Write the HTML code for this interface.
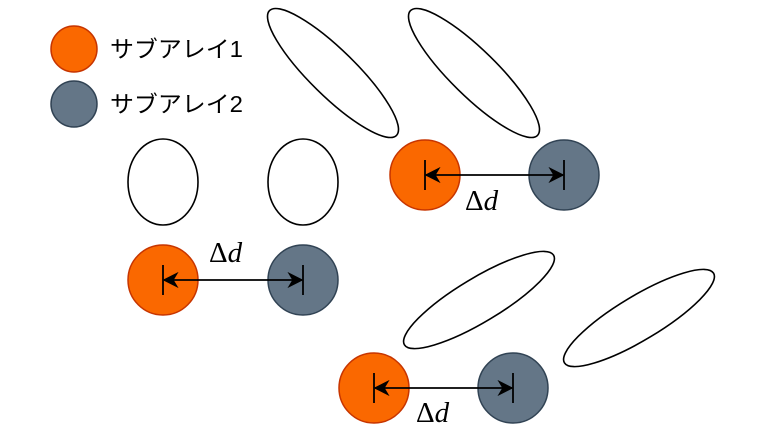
<!DOCTYPE html>
<html><head><meta charset="utf-8"><style>body{margin:0;background:#fff}svg{display:block}</style></head><body>
<svg width="768" height="433" viewBox="0 0 768 433" xmlns="http://www.w3.org/2000/svg">
<defs><marker id="a" viewBox="0 0 10 10" refX="9" refY="5" markerWidth="9" markerHeight="9" orient="auto-start-reverse"><path d="M0,0 L10,5 L0,10 L3,5z" fill="#000"/></marker></defs>
<g fill="none" stroke="#000" stroke-width="1.6">
<ellipse cx="163" cy="182" rx="35" ry="43"/>
<ellipse cx="303" cy="182" rx="35" ry="43"/>
<ellipse cx="333" cy="73" rx="89" ry="23" transform="rotate(44.5 333 73)"/>
<ellipse cx="474" cy="73" rx="89" ry="23" transform="rotate(44.5 474 73)"/>
<ellipse cx="479" cy="300" rx="87" ry="22" transform="rotate(-31 479 300)"/>
<ellipse cx="639" cy="318" rx="87" ry="22" transform="rotate(-31 639 318)"/>
</g>
<g stroke-width="1.5">
<circle cx="74" cy="49" r="23" fill="#fa6800" stroke="#c73500"/>
<circle cx="74" cy="104" r="23" fill="#647687" stroke="#314354"/>
<circle cx="425" cy="175" r="35" fill="#fa6800" stroke="#c73500"/>
<circle cx="564" cy="175" r="35" fill="#647687" stroke="#314354"/>
<circle cx="163" cy="280" r="35" fill="#fa6800" stroke="#c73500"/>
<circle cx="303" cy="280" r="35" fill="#647687" stroke="#314354"/>
<circle cx="374" cy="388" r="35" fill="#fa6800" stroke="#c73500"/>
<circle cx="513" cy="388" r="35" fill="#647687" stroke="#314354"/>
</g>
<g stroke="#000" stroke-width="1.8">
<line x1="425" y1="160" x2="425" y2="190"/><line x1="564" y1="160" x2="564" y2="190"/>
<line x1="426" y1="175" x2="563" y2="175" marker-start="url(#a)" marker-end="url(#a)"/>
<line x1="163" y1="265" x2="163" y2="295"/><line x1="303" y1="265" x2="303" y2="295"/>
<line x1="164" y1="280" x2="302" y2="280" marker-start="url(#a)" marker-end="url(#a)"/>
<line x1="374" y1="373" x2="374" y2="403"/><line x1="513" y1="373" x2="513" y2="403"/>
<line x1="375" y1="388" x2="512" y2="388" marker-start="url(#a)" marker-end="url(#a)"/>
</g>
<g font-family="Liberation Sans, Noto Sans CJK JP, sans-serif" font-size="23" fill="#000">
<text x="110" y="57" textLength="133" lengthAdjust="spacingAndGlyphs">サブアレイ1</text>
<text x="110" y="112" textLength="133" lengthAdjust="spacingAndGlyphs">サブアレイ2</text>
</g>
<g font-family="Liberation Serif, serif" font-size="29" fill="#000">
<text x="465" y="210">Δ<tspan font-style="italic">d</tspan></text>
<text x="209" y="262">Δ<tspan font-style="italic">d</tspan></text>
<text x="416" y="422">Δ<tspan font-style="italic">d</tspan></text>
</g>
</svg>
</body></html>
